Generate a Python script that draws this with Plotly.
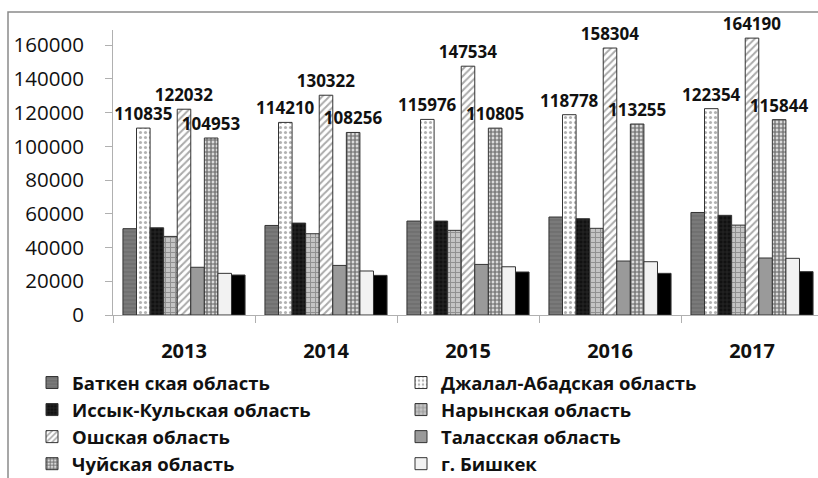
import plotly.graph_objects as go

years = ["2013", "2014", "2015", "2016", "2017"]

batken = [51200, 53100, 55700, 58100, 60800]
jalal_abad = [110835, 114210, 115976, 118778, 122354]
issyk_kul = [51700, 54500, 55700, 57100, 59100]
naryn = [46600, 48200, 50200, 51400, 53300]
osh = [122032, 130322, 147534, 158304, 164190]
talas = [28300, 29400, 30000, 32000, 33800]
chui = [104953, 108256, 110805, 113255, 115844]
bishkek = [24700, 26100, 28600, 31600, 33600]
other = [23700, 23500, 25500, 24700, 25700]

names = [
    "Баткен ская область",
    "Джалал-Абадская область",
    "Иссык-Кульская область",
    "Нарынская область",
    "Ошская область",
    "Таласская область",
    "Чуйская область",
    "г. Бишкек",
    "",
]
series = [batken, jalal_abad, issyk_kul, naryn, osh, talas, chui, bishkek, other]
labelled = [False, True, False, False, True, False, True, False, False]

styles = [
    dict(color="#7a7a7a", pattern=dict(shape="-", fgcolor="#5a5a5a", size=4, solidity=0.3)),
    dict(color="#ffffff", pattern=dict(shape=".", fgcolor="#666666", size=5, solidity=0.3)),
    dict(color="#111111", pattern=dict(shape="+", fgcolor="#555555", size=4, solidity=0.25)),
    dict(color="#c4c4c4", pattern=dict(shape="+", fgcolor="#5a5a5a", size=5, solidity=0.35)),
    dict(color="#ffffff", pattern=dict(shape="/", fgcolor="#555555", size=5, solidity=0.4)),
    dict(color="#9a9a9a"),
    dict(color="#ffffff", pattern=dict(shape=".", fgcolor="#000000", size=4, solidity=0.72)),
    dict(color="#f2f2f2"),
    dict(color="#000000"),
]

fig = go.Figure()
for name, vals, st, lab, i in zip(names, series, styles, labelled, range(9)):
    marker = dict(color=st["color"], line=dict(color="#333333", width=1))
    if "pattern" in st:
        marker["pattern"] = st["pattern"]
    fig.add_trace(go.Bar(
        x=years, y=vals, name=name, marker=marker,
        showlegend=(i < 8),
        text=[str(v) for v in vals] if lab else None,
        texttemplate="<b>%{text}</b>" if lab else None,
        textposition="outside" if lab else "none",
        textfont=dict(family="Open Sans", size=17, color="#111111"),
        constraintext="none",
        cliponaxis=False,
        hoverinfo="skip",
    ))

L, T, B = 113, 30, 163
W, H = 818, 478
pw = W - L
ph = H - T - B

fig.update_layout(
    width=W, height=H,
    margin=dict(l=L, r=0, t=T, b=B, pad=0, autoexpand=False),
    paper_bgcolor="white", plot_bgcolor="white",
    barmode="group", bargap=0.14, bargroupgap=0,
    font=dict(family="Open Sans", color="#111111"),
    xaxis=dict(
        type="category", range=[-0.5, 4.5 - 5 / 142],
        showline=True, linecolor="#b0b0b0", linewidth=1,
        ticks="outside", tickson="boundaries", ticklen=7, tickcolor="#b0b0b0",
        tickfont=dict(family="Open Sans", size=20, weight="bold", color="#111111"),
        ticklabelstandoff=18,
    ),
    yaxis=dict(
        range=[0, 169000], dtick=20000, tickformat="d",
        showline=True, linecolor="#b0b0b0", linewidth=1,
        ticks="outside", ticklen=7, tickcolor="#b0b0b0",
        showgrid=False, zeroline=False,
        tickfont=dict(family="Open Sans", size=20.5, color="#111111"),
        ticklabelstandoff=17,
    ),
    legend=dict(
        orientation="h", x=(32 - L) / pw, xanchor="left",
        y=-(364 - (H - B)) / ph, yanchor="top",
        entrywidth=324, entrywidthmode="pixels",
        font=dict(family="Open Sans", size=18.5, weight="bold", color="#111111"),
        itemclick=False, traceorder="normal",
    ),
    shapes=[dict(
        type="rect", xref="paper", yref="paper",
        x0=(8 - L) / pw, x1=1.05,
        y0=-(B + 20) / ph, y1=1 + (T - 12) / ph,
        line=dict(color="#8a8a8a", width=1.5), fillcolor="rgba(0,0,0,0)",
        layer="below",
    )],
)

fig.write_html(
    "out.html",
    config={"displayModeBar": False},
    post_script="document.body.style.margin='0';document.body.style.overflow='hidden';",
)
